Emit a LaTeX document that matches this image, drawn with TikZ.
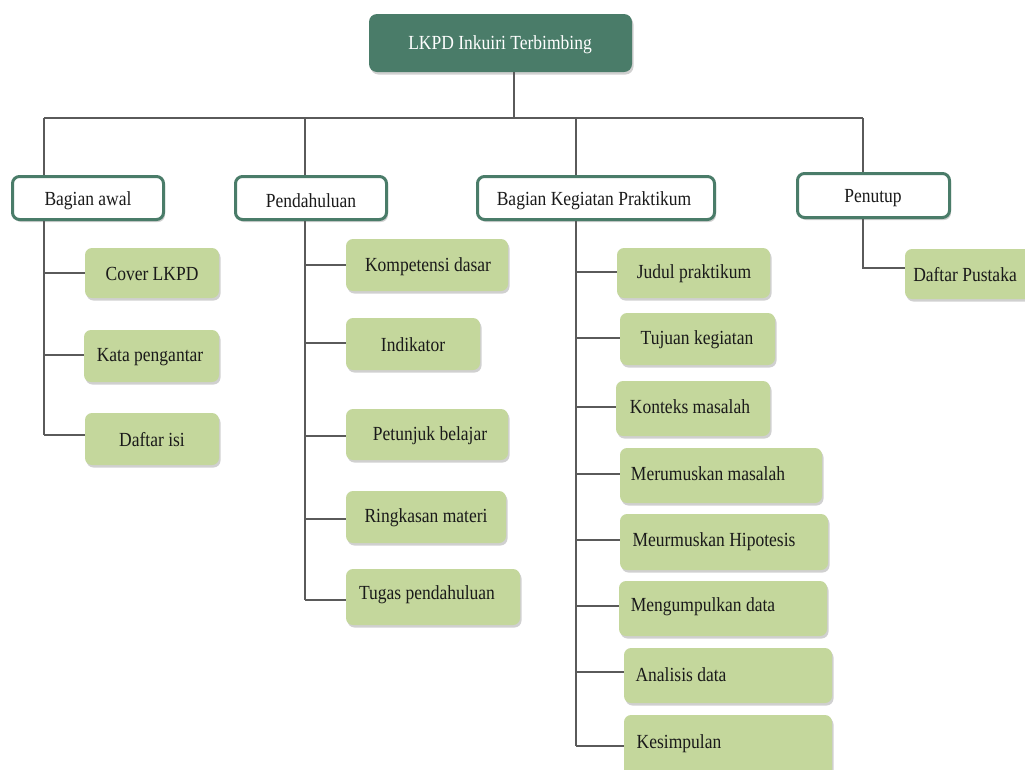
\documentclass[tikz,border=0pt]{standalone}
\usepackage{fontspec}
\setmainfont{Liberation Serif}[FakeStretch=0.875]
\usetikzlibrary{shadows,fit}
\definecolor{dkgreen}{HTML}{4A7C69}
\definecolor{leafgreen}{HTML}{C4D79C}
\definecolor{linegray}{HTML}{5A5A5A}
\definecolor{txt}{HTML}{1A1A1A}
\tikzset{
  shd/.style={drop shadow={opacity=0.3, shadow xshift=1.5pt, shadow yshift=-2.5pt, fill=black!60}},
  rootbox/.style={fill=dkgreen, rounded corners=8pt, inner sep=0pt, shd},
  catbox/.style={draw=dkgreen, line width=3pt, fill=white, rounded corners=7pt, inner sep=0pt, shd},
  leafbox/.style={fill=leafgreen, rounded corners=7pt, inner sep=0pt, shd},
  lbl/.style={font=\fontsize{20}{24}\selectfont, text=txt, inner sep=0pt, anchor=center, yshift=-2.5pt},
  conn/.style={draw=linegray, line width=1.5pt}
}
\begin{document}
\begin{tikzpicture}[x=1pt,y=-1pt]
\useasboundingbox[fill=white] (0,0) rectangle (1025,769);

% root
\node[rootbox, fit={(369,14)(632,72)}] (root) {};
\node[lbl, text=white] (rootT) at (500,42) {LKPD Inkuiri Terbimbing};

% categories
\node[catbox, fit={(12.5,176.5)(163.5,219.5)}] (bA) {};
\node[lbl] (bAT) at (88,198) {Bagian awal};
\node[catbox, fit={(235.5,176.5)(386.5,219.5)}] (pD) {};
\node[lbl] (pDT) at (311,198) {Pendahuluan};
\node[catbox, fit={(477.5,176.5)(714.5,219.5)}] (bK) {};
\node[lbl] (bKT) at (594,198) {Bagian Kegiatan Praktikum};
\node[catbox, fit={(797.5,173.5)(949.5,217.5)}] (pT) {};
\node[lbl] (pTT) at (873,196) {Penutup};

% bus
\coordinate (rootJ) at (514,118);
\coordinate (jA) at (44,118);
\coordinate (jP) at (305,118);
\coordinate (jK) at (576,118);
\coordinate (jT) at (863,118);
\draw[conn] (root.south -| rootJ) -- (rootJ);
\draw[conn] (jA) -- (jT);
\draw[conn] (jA) -- (jA |- bA.north);
\draw[conn] (jP) -- (jP |- pD.north);
\draw[conn] (jK) -- (jK |- bK.north);
\draw[conn] (jT) -- (jT |- pT.north);

% Bagian awal leaves
\node[leafbox, fit={(85,248)(219,298)}] (cover) {};
\node[lbl] (coverT) at (152,271) {Cover LKPD};
\node[leafbox, fit={(84,330)(219,382)}] (kata) {};
\node[lbl] (kataT) at (150,355) {Kata pengantar};
\node[leafbox, fit={(85,413)(219,465)}] (isi) {};
\node[lbl] (isiT) at (152,437) {Daftar isi};
\coordinate (cA1) at (44,273);
\coordinate (cA2) at (44,355);
\coordinate (cA3) at (44,435);
\draw[conn] (bA.south -| cA1) -- (cA3);
\draw[conn] (cA1) -- (cover.west |- cA1);
\draw[conn] (cA2) -- (kata.west |- cA2);
\draw[conn] (cA3) -- (isi.west |- cA3);

% Pendahuluan leaves
\node[leafbox, fit={(346,239)(508,291)}] (komp) {};
\node[lbl] (kompT) at (428,264) {Kompetensi dasar};
\node[leafbox, fit={(346,318)(480,370)}] (indi) {};
\node[lbl] (indiT) at (413,342) {Indikator};
\node[leafbox, fit={(346,409)(508,460)}] (petu) {};
\node[lbl] (petuT) at (430,433) {Petunjuk belajar};
\node[leafbox, fit={(346,491)(506,543)}] (ring) {};
\node[lbl] (ringT) at (426,515) {Ringkasan materi};
\node[leafbox, fit={(346,569)(520,625)}] (tuga) {};
\node[lbl] (tugaT) at (427,592) {Tugas pendahuluan};
\coordinate (cP1) at (305,265);
\coordinate (cP2) at (305,343);
\coordinate (cP3) at (305,436);
\coordinate (cP4) at (305,519);
\coordinate (cP5) at (305,600);
\draw[conn] (pD.south -| cP1) -- (cP5);
\draw[conn] (cP1) -- (komp.west |- cP1);
\draw[conn] (cP2) -- (indi.west |- cP2);
\draw[conn] (cP3) -- (petu.west |- cP3);
\draw[conn] (cP4) -- (ring.west |- cP4);
\draw[conn] (cP5) -- (tuga.west |- cP5);

% Bagian Kegiatan Praktikum leaves
\node[leafbox, fit={(617,248)(770,298)}] (judul) {};
\node[lbl] (judulT) at (694,271) {Judul praktikum};
\node[leafbox, fit={(620,313)(775,365)}] (tujuan) {};
\node[lbl] (tujuanT) at (697,337) {Tujuan kegiatan};
\node[leafbox, fit={(616,381)(770,436)}] (konteks) {};
\node[lbl] (konteksT) at (690,404) {Konteks masalah};
\node[leafbox, fit={(620,448)(822,503)}] (merum) {};
\node[lbl] (merumT) at (708,471) {Merumuskan masalah};
\node[leafbox, fit={(620,514)(828,570)}] (hipo) {};
\node[lbl] (hipoT) at (714,539) {Meurmuskan Hipotesis};
\node[leafbox, fit={(619,581)(827,636)}] (kumpul) {};
\node[lbl] (kumpulT) at (703,604) {Mengumpulkan data};
\node[leafbox, fit={(624,648)(832,703)}] (anal) {};
\node[lbl] (analT) at (681,672) {Analisis data};
\node[leafbox, fit={(624,715)(832,778)}] (kesim) {};
\node[lbl] (kesimT) at (679,741) {Kesimpulan};
\coordinate (cK1) at (576,272);
\coordinate (cK2) at (576,338);
\coordinate (cK3) at (576,407);
\coordinate (cK4) at (576,474);
\coordinate (cK5) at (576,540);
\coordinate (cK6) at (576,606);
\coordinate (cK7) at (576,672);
\coordinate (cK8) at (576,746);
\draw[conn] (bK.south -| cK1) -- (cK8);
\draw[conn] (cK1) -- (judul.west |- cK1);
\draw[conn] (cK2) -- (tujuan.west |- cK2);
\draw[conn] (cK3) -- (konteks.west |- cK3);
\draw[conn] (cK4) -- (merum.west |- cK4);
\draw[conn] (cK5) -- (hipo.west |- cK5);
\draw[conn] (cK6) -- (kumpul.west |- cK6);
\draw[conn] (cK7) -- (anal.west |- cK7);
\draw[conn] (cK8) -- (kesim.west |- cK8);

% Penutup leaf
\node[leafbox, fit={(905,249)(1045,299)}] (pustaka) {};
\node[lbl] (pustakaT) at (965,272) {Daftar Pustaka};
\coordinate (cT1) at (863,268);
\draw[conn] (pT.south -| cT1) -- (cT1) -- (pustaka.west |- cT1);
\end{tikzpicture}
\end{document}
